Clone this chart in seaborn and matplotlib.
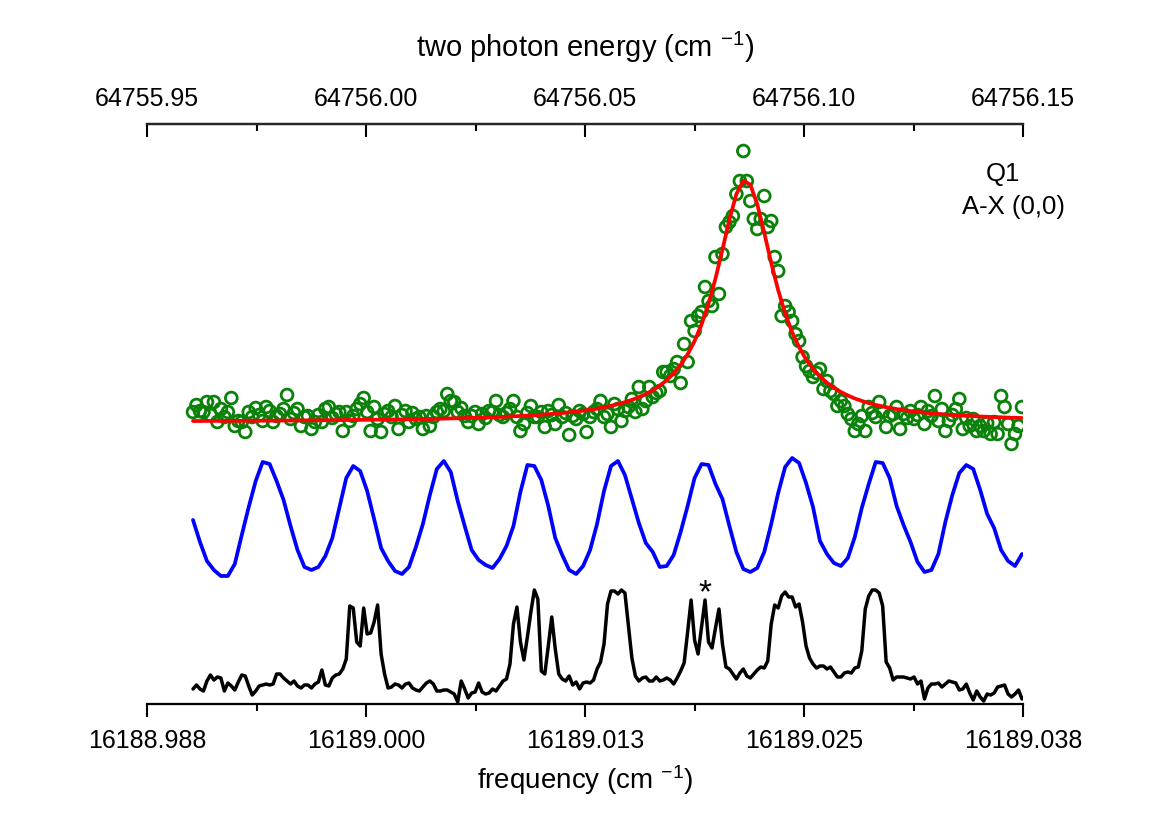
import numpy as np
import matplotlib
matplotlib.use("Agg")
import matplotlib.pyplot as plt
import seaborn as sns

# ================== DATA ==================
# frequency grid (cm-1), 239 scan points
freq = np.linspace(16188.990126, 16189.037443, 239)

# LIF signal of the Q1 line, green circles (arb. units above baseline)
lif_signal = [
    9, 16, 10, 9, 19, 6, 19, -1, 12, 4,
    9, 23, -5, 0, -1, -11, 9, 4, 13, 6,
    0, 14, 10, -1, 5, 7, 12, 26, 2, 8,
    12, -5, 4, 5, -8, -1, 6, -1, 12, 14,
    3, 7, 9, -10, 9, 0, 5, 12, 17, 23,
    9, -10, 14, 2, -11, 7, 10, 4, 15, -8,
    6, 10, -1, 8, 2, 4, -8, 5, -5, 4,
    9, 12, 10, 27, 20, 19, 9, 13, 5, -1,
    5, 9, -3, 7, 3, 10, 9, 20, 6, 4,
    8, 12, 20, 4, -10, -3, 8, 15, 4, 4,
    9, -6, 10, 6, -3, 16, 4, 8, -14, 5,
    2, 10, 7, -11, 4, 9, 12, 20, 4, 7,
    -6, 17, 12, 0, 10, 14, 22, 9, 34, 12,
    20, 34, 24, 28, 30, 49, 49, 45, 52, 59,
    38, 77, 59, 100, 90, 105, 109, 134, 120, 115,
    164, 127, 167, 194, 199, 205, 227, 240, 270, 240,
    220, 202, 192, 202, 225, 194, 200, 164, 150, 105,
    115, 109, 100, 87, 80, 64, 55, 50, 44, 48,
    52, 32, 40, 30, 27, 15, 20, 15, 7, 2,
    -10, -3, 5, -10, 14, 8, 4, 19, 9, -6,
    5, 7, 14, -8, 7, 3, 10, 2, 6, 14,
    -3, 10, 5, 25, 0, 12, -10, 0, 6, 12,
    22, -8, 3, -5, 2, -10, -5, -10, -2, -13,
    -1, -13, 25, 14, -3, -23, -13, -5, 14,
]

# Lorentzian fit (red), on every second scan point
lorentz_fit = [
    0.0, 0.0, 0.1, 0.1, 0.1, 0.2, 0.2, 0.2, 0.3, 0.3,
    0.3, 0.4, 0.4, 0.5, 0.5, 0.6, 0.6, 0.7, 0.7, 0.8,
    0.8, 0.9, 1.0, 1.0, 1.1, 1.2, 1.3, 1.3, 1.4, 1.5,
    1.6, 1.7, 1.9, 2.0, 2.1, 2.2, 2.4, 2.6, 2.7, 2.9,
    3.1, 3.3, 3.5, 3.8, 4.1, 4.4, 4.7, 5.0, 5.4, 5.8,
    6.3, 6.8, 7.4, 8.0, 8.7, 9.5, 10.3, 11.3, 12.4, 13.7,
    15.2, 16.9, 18.8, 21.1, 23.8, 27.0, 30.8, 35.3, 40.9, 47.7,
    56.2, 66.7, 80.0, 96.6, 117.3, 142.4, 171.4, 201.5, 227.0, 240.3,
    236.4, 216.8, 188.4, 158.2, 130.8, 107.6, 88.8, 73.8, 61.8, 52.2,
    44.5, 38.3, 33.2, 29.0, 25.5, 22.5, 20.1, 17.9, 16.1, 14.5,
    13.1, 11.9, 10.9, 9.9, 9.1, 8.4, 7.7, 7.1, 6.6, 6.1,
    5.6, 5.2, 4.9, 4.5, 4.2, 3.9, 3.7, 3.4, 3.2, 3.0,
]

# etalon transmission (blue), on every second scan point
etalon = [
    56, 34, 15, 6, 0, 0, 12, 41, 69, 95,
    114, 112, 95, 76, 50, 26, 9, 6, 9, 20,
    38, 68, 98, 110, 105, 85, 57, 28, 15, 5,
    2, 9, 29, 52, 81, 107, 115, 104, 75, 50,
    26, 16, 11, 8, 17, 30, 50, 84, 111, 110,
    96, 70, 38, 21, 6, 2, 10, 26, 52, 85,
    110, 115, 101, 77, 53, 33, 24, 9, 10, 21,
    44, 70, 98, 112, 111, 92, 77, 50, 24, 7,
    4, 8, 24, 52, 83, 109, 118, 113, 93, 69,
    35, 22, 13, 10, 18, 39, 68, 92, 114, 113,
    98, 70, 51, 34, 14, 4, 6, 22, 54, 81,
    103, 111, 107, 86, 62, 48, 26, 15, 10, 22,
]

# iodine reference spectrum (black)
iodine = [
    15, 19, 15, 13, 23, 29, 24, 27, 26, 13,
    21, 18, 14, 22, 29, 28, 18, 9, 13, 18,
    19, 20, 19, 20, 30, 30, 26, 23, 20, 23,
    18, 16, 19, 19, 16, 20, 22, 34, 19, 18,
    26, 29, 30, 35, 45, 98, 96, 62, 58, 96,
    70, 71, 82, 99, 50, 30, 16, 17, 20, 19,
    16, 20, 21, 16, 14, 13, 17, 21, 23, 20,
    13, 13, 14, 14, 12, 10, 2, 23, 15, 6,
    11, 12, 21, 12, 10, 11, 15, 13, 18, 23,
    25, 40, 80, 97, 62, 44, 67, 92, 114, 105,
    33, 30, 58, 87, 55, 30, 25, 23, 28, 19,
    22, 15, 21, 22, 21, 24, 35, 42, 60, 100,
    113, 113, 110, 114, 111, 78, 46, 28, 23, 26,
    27, 23, 23, 27, 23, 24, 26, 24, 20, 26,
    33, 41, 72, 104, 64, 50, 77, 104, 62, 56,
    76, 95, 60, 37, 35, 30, 25, 31, 35, 28,
    26, 30, 34, 37, 36, 43, 80, 99, 96, 108,
    112, 107, 107, 97, 100, 82, 58, 46, 40, 36,
    38, 38, 35, 37, 32, 27, 27, 31, 32, 31,
    36, 37, 53, 95, 108, 114, 114, 111, 98, 42,
    36, 24, 27, 27, 27, 26, 25, 27, 20, 23,
    5, 16, 20, 20, 21, 17, 20, 23, 22, 21,
    14, 15, 20, 11, 4, 13, 7, 3, 10, 9,
    11, 17, 18, 19, 10, 7, 10, 14, 5,
]

# axis ticks
freq_ticks = [16188.9875, 16189.0, 16189.0125, 16189.025, 16189.0375]
freq_labels = ["16188.988", "16189.000", "16189.013", "16189.025", "16189.038"]
freq_minor = [16188.99375, 16189.00625, 16189.01875, 16189.03125]
energy_ticks = [64755.95, 64756.00, 64756.05, 64756.10, 64756.15]
energy_labels = ["64755.95", "64756.00", "64756.05", "64756.10", "64756.15"]
energy_minor = [64755.975, 64756.025, 64756.075, 64756.125]

# ================== STYLE ==================
sns.set_theme(style="white")
plt.rcParams["font.family"] = ["Liberation Sans", "DejaVu Sans"]
plt.rcParams["mathtext.fontset"] = "custom"
plt.rcParams["mathtext.rm"] = "Liberation Sans"
plt.rcParams["mathtext.it"] = "Liberation Sans:italic"
plt.rcParams["mathtext.default"] = "regular"
plt.rcParams["text.color"] = "black"
plt.rcParams["axes.labelcolor"] = "black"
plt.rcParams["xtick.color"] = "black"
plt.rcParams["xtick.labelcolor"] = "black"

fig = plt.figure(figsize=(11.7, 8.28), dpi=100)
ax = fig.add_axes([147 / 1170, 1 - 705 / 828, 876 / 1170, 580 / 828])

# vertical offsets of the stacked traces
lif_base = 283
etalon_base = 128

x_half = freq[::2]

sns.scatterplot(x=freq, y=np.array(lif_signal) + lif_base, ax=ax, marker="o",
                s=72, facecolor="none", edgecolor="#0a820a", linewidth=2.0,
                zorder=2)
sns.lineplot(x=x_half, y=np.array(lorentz_fit) + lif_base, ax=ax,
             color="#ff0000", linewidth=2.7, zorder=3)
sns.lineplot(x=x_half, y=np.array(etalon) + etalon_base, ax=ax,
             color="#0000ff", linewidth=2.7, zorder=3)
sns.lineplot(x=freq, y=iodine, ax=ax, color="black", linewidth=2.5, zorder=3)

ax.text(freq[147], iodine[147] - 1, "*", ha="center", va="baseline",
        fontsize=24, color="black")
ax.text(0.957, 0.915, "Q1", transform=ax.transAxes, ha="left", va="center",
        fontsize=18.5)
ax.text(0.930, 0.858, "A-X (0,0)", transform=ax.transAxes, ha="left",
        va="center", fontsize=18.5)

# ================== AXES ==================
ax.set_xlim(16188.9875, 16189.0375)
ax.set_ylim(0, 580)
ax.yaxis.set_visible(False)
for side in ["left", "right"]:
    ax.spines[side].set_visible(False)
for side in ["top", "bottom"]:
    ax.spines[side].set_linewidth(1.6)
    ax.spines[side].set_color("black")

ax.set_xticks(freq_ticks)
ax.set_xticklabels(freq_labels)
ax.set_xticks(freq_minor, minor=True)
ax.tick_params(axis="x", which="major", direction="out", length=9.5,
               width=1.5, labelsize=18, pad=8, bottom=True, top=False,
               color="black", labelcolor="black")
ax.tick_params(axis="x", which="minor", direction="out", length=5,
               width=1.5, bottom=True, top=False, color="black")
ax.set_xlabel("frequency (cm $^{-1}$)", fontsize=20, labelpad=7)

ax2 = ax.twiny()
ax2.set_xlim(64755.95, 64756.15)
ax2.set_xticks(energy_ticks)
ax2.set_xticklabels(energy_labels)
ax2.set_xticks(energy_minor, minor=True)
ax2.tick_params(axis="x", which="major", direction="in", length=9.5,
                width=1.5, labelsize=18, pad=10, top=True, bottom=False,
                color="black", labelcolor="black")
ax2.tick_params(axis="x", which="minor", direction="in", length=5,
                width=1.5, top=True, bottom=False, color="black")
for side in ["left", "right", "bottom"]:
    ax2.spines[side].set_visible(False)
ax2.spines["top"].set_linewidth(1.6)
ax2.set_xlabel("two photon energy (cm $^{-1}$)", fontsize=21, labelpad=22)
ax2.grid(False)
ax.grid(False)

fig.savefig("out.png", dpi=100)
